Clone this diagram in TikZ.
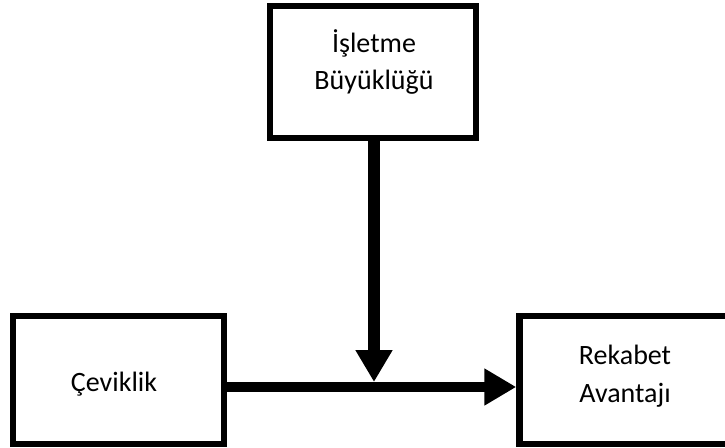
\documentclass[tikz,border=0pt]{standalone}
\usepackage{fontspec}
\setmainfont{Carlito}
\usetikzlibrary{arrows.meta}
\begin{document}
\begin{tikzpicture}[x=1pt,y=-1pt,
  box/.style={draw=black,line width=6.5pt,fill=white,inner sep=0pt},
  txt/.style={align=center,inner sep=0pt,font=\fontsize{28}{37.5}\selectfont},
  bigarrow/.style={draw=black,-{Triangle[length=32pt,width=35pt]}}]
\useasboundingbox (0,0) rectangle (725,447);
\clip (0,0) rectangle (725,447);
\node[box,minimum width=206pt,minimum height=132pt] (top) at (373,72) {};
\node[box,minimum width=211pt,minimum height=128pt] (left) at (118.5,380) {};
\node[box,minimum width=211pt,minimum height=128pt] (right) at (625,380) {};
\node[txt] (toptxt) at (374,62) {İşletme\\Büyüklüğü};
\node[txt] (lefttxt) at (114,384) {Çeviklik};
\node[txt] (righttxt) at (625,376) {Rekabet\\Avantajı};
\coordinate (hline) at (374,387);
\coordinate (vtip) at (374,382);
\draw[bigarrow,line width=10pt] (left.east |- hline) -- (right.west |- hline);
\draw[bigarrow,line width=12pt] (top.south -| vtip) -- (vtip);
\end{tikzpicture}
\end{document}
